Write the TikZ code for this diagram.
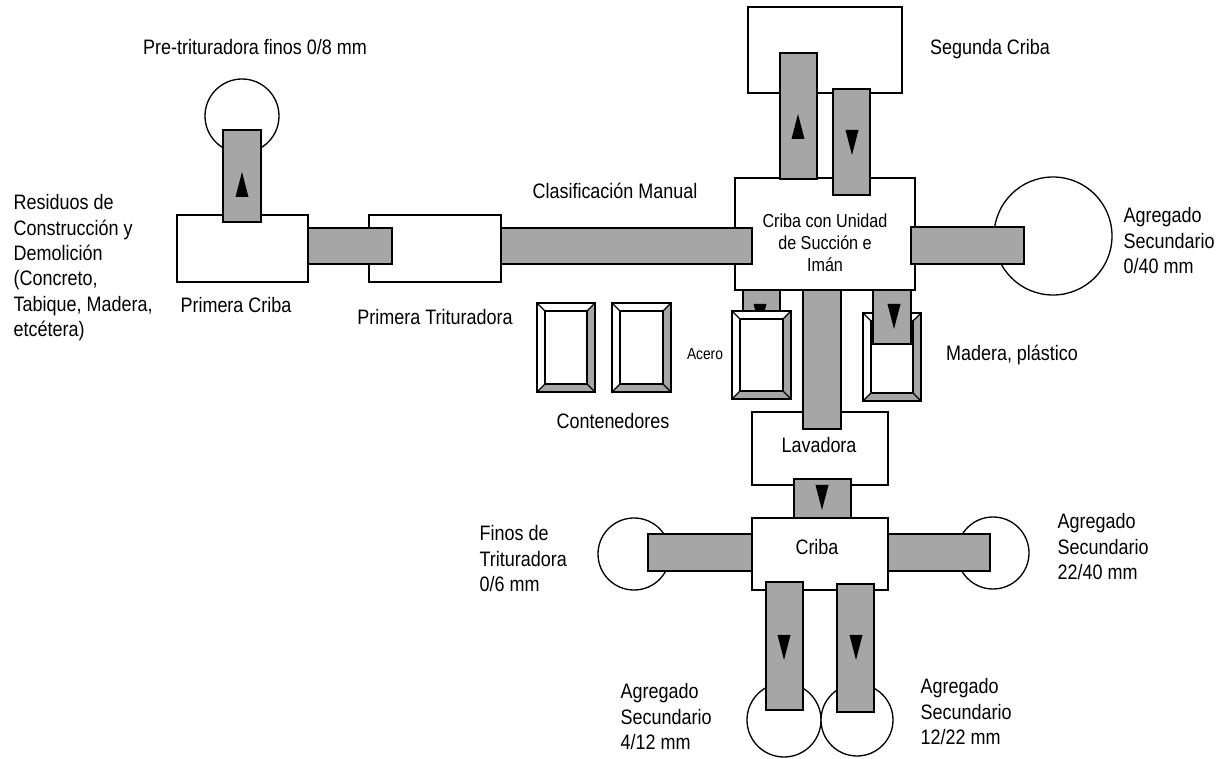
\documentclass[tikz,border=0pt]{standalone}
\usepackage{fontspec}
\setmainfont{Liberation Sans}[FakeStretch=0.86]
\usetikzlibrary{positioning}
\definecolor{beltgray}{RGB}{166,166,166}
\tikzset{
    unit/.style={draw, fill=white},
    belt/.style={draw, fill=beltgray},
    lbl/.style={inner sep=0pt, font=\fontsize{11.9}{14.4}\selectfont},
    lblsmall/.style={inner sep=0pt, align=center, font=\fontsize{10.7}{12.6}\selectfont},
}
% flow arrows on the belts
\newcommand{\arrup}[1]{\fill #1 ++(-6.5,12) -- ++(13,0) -- ++(-6.5,-25) -- cycle;}
\newcommand{\arrdown}[1]{\fill #1 ++(-6.5,-12) -- ++(13,0) -- ++(-6.5,25) -- cycle;}
% container with bevelled rim
\newcommand{\bin}[4]{%
    \fill[white] (#1,#2) rectangle (#3,#4);
    \fill[beltgray] (#1,#4) -- (#3,#4) -- (#3,#2) -- ++(-8,8)
        -- ([shift={(-8,-8)}]#3,#4) -- ([shift={(8,-8)}]#1,#4) -- cycle;
    \draw (#1,#2) rectangle (#3,#4);
    \draw ([shift={(8,8)}]#1,#2) rectangle ([shift={(-8,-8)}]#3,#4);
    \draw (#1,#2) -- ++(8,8) (#3,#2) -- ++(-8,8)
        (#1,#4) -- ++(8,-8) (#3,#4) -- ++(-8,-8);
}

\begin{document}
\begin{tikzpicture}[x=0.02cm, y=-0.02cm, line width=0.75pt]
    \useasboundingbox (0,0) rectangle (1227,759);

    % Stockpiles
    \draw[unit] (242,116) circle (37);
    \draw[unit] (1053,236) circle (59);
    \draw[unit] (634,554) circle (36);
    \draw[unit] (993,553) circle (36);
    \draw[unit] (784,720) circle (37);
    \draw[unit] (857,720) circle (36);

    % Machines
    \draw[unit] (177,215) rectangle (308,282);
    \draw[unit] (369,215) rectangle (501,282);
    \draw[unit] (735,178) rectangle (915,290);
    \draw[unit] (748,7) rectangle (902,93);
    \draw[unit] (752,412) rectangle (888,485);
    \draw[unit] (752,518) rectangle (888,590);

    % Steel belt, under its container
    \draw[belt] (743,290) rectangle (780,313);
    \arrdown{(760,316)}

    % Containers
    \bin{537}{303}{595}{392}
    \bin{612}{303}{671}{392}
    \bin{732}{311}{791}{399}
    \bin{863}{313}{921}{401}

    % Belts
    \draw[belt] (223,130) rectangle (261,222);
    \arrup{(242,185)}
    \draw[belt] (308,228) rectangle (392,264);
    \draw[belt] (501,228) rectangle (752,264);
    \draw[belt] (780,53) rectangle (817,179);
    \arrup{(798,127)}
    \draw[belt] (833,89) rectangle (870,195);
    \arrdown{(852,142)}
    \draw[belt] (911,227) rectangle (1024,264);
    \draw[belt] (803,290) rectangle (841,429);
    \draw[belt] (873,290) rectangle (911,344);
    \arrdown{(894,316)}
    \draw[belt] (794,479) rectangle (851,518);
    \arrdown{(822,497)}
    \draw[belt] (648,534) rectangle (752,571);
    \draw[belt] (888,534) rectangle (990,571);
    \draw[belt] (766,582) rectangle (803,710);
    \arrdown{(784,647)}
    \draw[belt] (837,584) rectangle (874,712);
    \arrdown{(856,647)}

    % Labels
    \node[lbl, anchor=base] (pretrit) at (255,55) {Pre-trituradora finos 0/8 mm};
    \node[lbl, anchor=north west, align=left] (rcd) at (13,194)
        {Residuos de\\Construcción y\\Demolición\\(Concreto,\\Tabique, Madera,\\etcétera)};
    \node[lbl, anchor=base] (criba1) at (236,313) {Primera Criba};
    \node[lbl, anchor=base] (trit1) at (435,325) {Primera Trituradora};
    \node[lbl, anchor=base] (manual) at (615,199) {Clasificación Manual};
    \node[lblsmall, anchor=north] (succion) at (825,213) {Criba con Unidad\\de Succión e\\Imán};
    \node[lbl, anchor=base] (criba2) at (990,55) {Segunda Criba};
    \node[lbl, anchor=north west, align=left] (ag040) at (1123,207) {Agregado\\Secundario\\0/40 mm};
    \node[inner sep=0pt, font=\fontsize{9.1}{11}\selectfont, anchor=base] (acero) at (705,360) {Acero};
    \node[lbl, anchor=base] (madera) at (1012,361) {Madera, plástico};
    \node[lbl, anchor=base] (cont) at (613,429) {Contenedores};
    \node[lbl, anchor=base] (lav) at (819,453) {Lavadora};
    \node[lbl, anchor=base] (criba3) at (817,555) {Criba};
    \node[lbl, anchor=north west, align=left] (finos) at (479,525) {Finos de\\Trituradora\\0/6 mm};
    \node[lbl, anchor=north west, align=left] (ag2240) at (1057,513) {Agregado\\Secundario\\22/40 mm};
    \node[lbl, anchor=north west, align=left] (ag412) at (620,683) {Agregado\\Secundario\\4/12 mm};
    \node[lbl, anchor=north west, align=left] (ag1222) at (920,678) {Agregado\\Secundario\\12/22 mm};
\end{tikzpicture}
\end{document}
